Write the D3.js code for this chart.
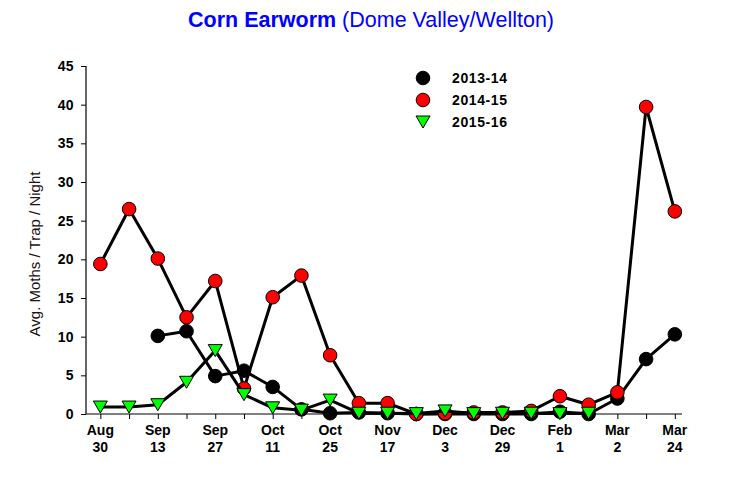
<!DOCTYPE html>
<html>
<head>
<meta charset="utf-8">
<script src="https://cdn.jsdelivr.net/npm/d3@7"></script>
<style>
  body { margin: 0; background: #fff; }
  svg { display: block; font-family: Arial, "Liberation Sans", sans-serif; }
</style>
</head>
<body>
<svg id="chart" width="736" height="479"></svg>
<script>
// ---- data ----
const xIndex = d3.range(21);
const tickMonths = ["Aug","Sep","Sep","Oct","Oct","Nov","Dec","Dec","Feb","Mar","Mar"];
const tickDays   = ["30","13","27","11","25","17","3","29","1","2","24"];
const seriesNames = ["2013-14","2014-15","2015-16"];
const s2013 = [null, null, 10.1, 10.7, 4.9, 5.6, 3.5, 0.6, 0.1, 0.2, 0.1, 0, 0, 0, 0, 0, 0.3, 0, 2.0, 7.1, 10.3];
const s2014 = [19.4, 26.5, 20.1, 12.5, 17.2, 3.3, 15.1, 17.9, 7.6, 1.4, 1.4, 0, 0.1, 0.2, 0.2, 0.4, 2.3, 1.2, 2.8, 39.7, 26.2];
const s2015 = [0.9, 0.9, 1.2, 4.1, 8.2, 2.5, 0.8, 0.5, 1.8, 0.1, 0.1, 0.05, 0.4, 0.05, 0.1, 0.1, 0.05, 0.1, null, null, null];
const yTicks = [0,5,10,15,20,25,30,35,40,45];

const svg = d3.select("#chart");
const x = d3.scaleLinear().domain([-0.5, 20.25]).range([86, 682]);
const y = d3.scaleLinear().domain([0, 45]).range([414, 66]);

// title
const title = svg.append("text").attr("x", 371).attr("y", 27)
  .attr("text-anchor", "middle").attr("fill", "#0000ff").attr("font-size", 21.5);
title.append("tspan").attr("font-weight", "bold").text("Corn Earworm");
title.append("tspan").text(" (Dome Valley/Wellton)");

// y axis
const yAxis = d3.axisLeft(y).tickValues(yTicks).tickSize(5).tickPadding(7);
const gy = svg.append("g").attr("transform", "translate(86,0)").call(yAxis);
gy.select(".domain").attr("stroke", "#000").attr("stroke-width", 1.2).attr("d", "M0,66V414");
gy.selectAll("text").attr("font-size", 14).attr("font-weight", "bold").attr("letter-spacing", 0.4)
  .attr("font-family", "Arial, 'Liberation Sans', sans-serif").attr("fill", "#000");

// x axis
const xAxis = d3.axisBottom(x).tickValues(xIndex).tickSize(5).tickFormat("");
const gx = svg.append("g").attr("transform", "translate(0,414)").call(xAxis);
gx.select(".domain").attr("stroke", "#000").attr("stroke-width", 1.2).attr("d", "M86,0H682");

const labG = svg.append("g").attr("font-size", 14).attr("font-weight", "bold").attr("text-anchor", "middle");
tickMonths.forEach((m, i) => {
  const t = labG.append("text").attr("x", x(i * 2)).attr("y", 435);
  t.append("tspan").attr("x", x(i * 2)).text(m);
  t.append("tspan").attr("x", x(i * 2)).attr("dy", 17).text(tickDays[i]);
});

// y label
svg.append("text").attr("transform", "translate(40,254) rotate(-90)")
  .attr("text-anchor", "middle").attr("font-size", 15).attr("fill", "#201010")
  .text("Avg. Moths / Trap / Night");

const line = d3.line().defined(d => d[1] != null).x(d => x(d[0])).y(d => y(d[1]));
const tri = "M-7,-6L7,-6L0,6Z";

function drawSeries(vals, marker, fill) {
  const pts = vals.map((v, i) => [i, v]);
  svg.append("path").attr("d", line(pts)).attr("fill", "none")
    .attr("stroke", "#000").attr("stroke-width", 3).attr("stroke-linejoin", "round");
  const def = pts.filter(p => p[1] != null);
  if (marker === "circle") {
    svg.append("g").selectAll("circle").data(def).join("circle")
      .attr("cx", d => x(d[0])).attr("cy", d => y(d[1])).attr("r", 6.8)
      .attr("fill", fill).attr("stroke", "#000").attr("stroke-width", 1);
  } else {
    svg.append("g").selectAll("path").data(def).join("path")
      .attr("transform", d => `translate(${x(d[0])},${y(d[1])})`).attr("d", tri)
      .attr("fill", fill).attr("stroke", "#000").attr("stroke-width", 1);
  }
}
drawSeries(s2013, "circle", "#000");
drawSeries(s2014, "circle", "#ff0000");
drawSeries(s2015, "tri", "#00ff00");

// legend
const leg = svg.append("g");
const legItems = [
  {name: seriesNames[0], marker: "circle", fill: "#000"},
  {name: seriesNames[1], marker: "circle", fill: "#ff0000"},
  {name: seriesNames[2], marker: "tri", fill: "#00ff00"}
];
legItems.forEach((it, i) => {
  const cy = 78 + i * 22;
  if (it.marker === "circle") {
    leg.append("circle").attr("cx", 423).attr("cy", cy).attr("r", 6.8)
      .attr("fill", it.fill).attr("stroke", "#000").attr("stroke-width", 1);
  } else {
    leg.append("path").attr("transform", `translate(423,${cy})`).attr("d", tri)
      .attr("fill", it.fill).attr("stroke", "#000").attr("stroke-width", 1);
  }
  leg.append("text").attr("x", 452).attr("y", cy + 5).attr("font-size", 14)
    .attr("font-weight", "bold").attr("letter-spacing", 0.6).text(it.name);
});
</script>
</body>
</html>
